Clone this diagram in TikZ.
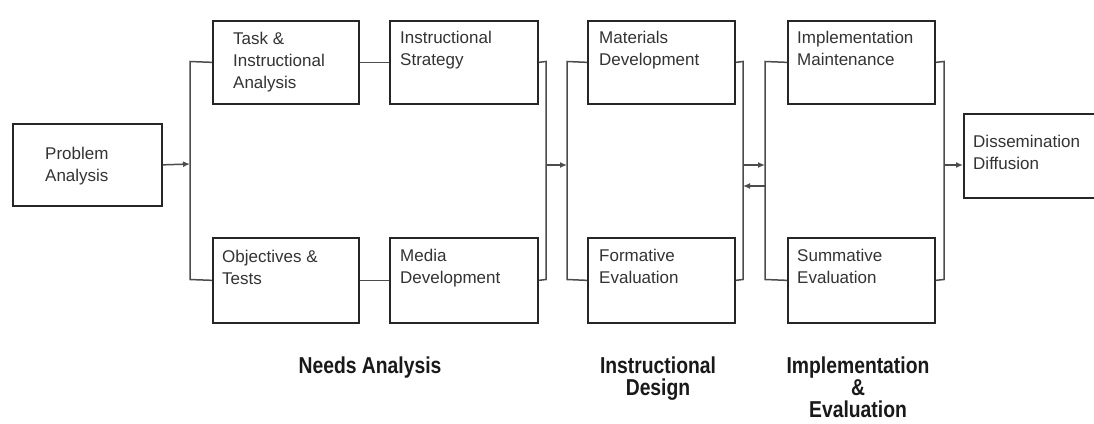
\documentclass[tikz,border=0pt]{standalone}
\usepackage{fontspec}
\setmainfont{Liberation Sans}
\newfontfamily\phasefont[FakeStretch=0.84]{Liberation Sans}
\usetikzlibrary{arrows.meta}
\begin{document}
\begin{tikzpicture}[x=1pt,y=-1pt,
  box/.style={draw=black!85, line width=1.7pt, fill=white, rectangle, inner sep=0pt, anchor=north west},
  boxtext/.style={anchor=north west, inner sep=0pt, align=left, text=black!80,
    font=\fontsize{17}{22}\selectfont},
  phase/.style={anchor=north, inner sep=0pt, align=center, text=black!90,
    font=\phasefont\bfseries\fontsize{23}{22}\selectfont},
  conn/.style={draw=black!70, line width=1.5pt},
  arr/.style={conn, -{Latex[length=7pt,width=6pt]}}]
\useasboundingbox (0,0) rectangle (1094,423);
\fill[white] (0,0) rectangle (1094,423);

% stage boxes
\node[box, minimum width=149pt, minimum height=82pt] (pa)  at (12,123) {};
\node[box, minimum width=146pt, minimum height=83pt] (ta)  at (212,20) {};
\node[box, minimum width=146pt, minimum height=85pt] (ot)  at (212,237) {};
\node[box, minimum width=148pt, minimum height=83pt] (is)  at (389,20) {};
\node[box, minimum width=148pt, minimum height=85pt] (md)  at (389,237) {};
\node[box, minimum width=147pt, minimum height=83pt] (mat) at (587,20) {};
\node[box, minimum width=147pt, minimum height=85pt] (fe)  at (587,237) {};
\node[box, minimum width=147pt, minimum height=83pt] (im)  at (787,20) {};
\node[box, minimum width=147pt, minimum height=85pt] (se)  at (787,237) {};
\node[box, minimum width=140pt, minimum height=84pt] (dd)  at (963,113) {};

% box captions
\node[boxtext] (pa-t)  at ([shift={(33,24)}]pa.north west)  {Problem\\Analysis};
\node[boxtext] (ta-t)  at ([shift={(21,12)}]ta.north west)  {Task \&\\Instructional\\Analysis};
\node[boxtext] (ot-t)  at ([shift={(10,13)}]ot.north west)  {Objectives \&\\Tests};
\node[boxtext] (is-t)  at ([shift={(11,11)}]is.north west)  {Instructional\\Strategy};
\node[boxtext] (md-t)  at ([shift={(11,12)}]md.north west)  {Media\\Development};
\node[boxtext] (mat-t) at ([shift={(12,11)}]mat.north west) {Materials\\Development};
\node[boxtext] (fe-t)  at ([shift={(12,12)}]fe.north west)  {Formative\\Evaluation};
\node[boxtext] (im-t)  at ([shift={(10,11)}]im.north west)  {Implementation\\Maintenance};
\node[boxtext] (se-t)  at ([shift={(10,12)}]se.north west)  {Summative\\Evaluation};
\node[boxtext] (dd-t)  at ([shift={(10,22)}]dd.north west)  {Dissemination\\Diffusion};

% bus junctions
\coordinate (b1t) at (190,61.5);  \coordinate (b1b) at (190,279.5);  \coordinate (b1m) at (190,164);
\coordinate (b2t) at (546,61.5);  \coordinate (b2b) at (546,279.5);  \coordinate (b2m) at (546,165);
\coordinate (b3t) at (567,61.5);  \coordinate (b3b) at (567,279.5);  \coordinate (b3m) at (567,165);
\coordinate (b4t) at (743,61.5);  \coordinate (b4b) at (743,279.5);
\coordinate (b4m) at (743,165);   \coordinate (b4n) at (743,186);
\coordinate (b5t) at (765,61.5);  \coordinate (b5b) at (765,279.5);
\coordinate (b5m) at (765,165);   \coordinate (b5n) at (765,186);
\coordinate (b6t) at (944,61.5);  \coordinate (b6b) at (944,279.5);  \coordinate (b6m) at (944,165);

% needs analysis
\draw[arr] (pa.east) -- (b1m);
\draw[conn] (ta.west) -- (b1t) -- (b1b) -- (ot.west);
\draw[conn] (ta.east) -- (is.west);
\draw[conn] (ot.east) -- (md.west);
\draw[conn] (is.east) -- (b2t) -- (b2b) -- (md.east);
\draw[arr] (b2m) -- (b3m);

% instructional design
\draw[conn] (mat.west) -- (b3t) -- (b3b) -- (fe.west);
\draw[conn] (mat.east) -- (b4t) -- (b4b) -- (fe.east);
\draw[arr] (b4m) -- (b5m);
\draw[arr] (b5n) -- (b4n);

% implementation and evaluation
\draw[conn] (im.west) -- (b5t) -- (b5b) -- (se.west);
\draw[conn] (im.east) -- (b6t) -- (b6b) -- (se.east);
\draw[arr] (b6m) -- (dd.west |- b6m);

% phase labels
\node[phase] (ph1) at (370,357) {Needs Analysis};
\node[phase] (ph2) at (658,357) {Instructional\\Design};
\node[phase] (ph3) at (858,357) {Implementation\\\&\\Evaluation};
\end{tikzpicture}
\end{document}
